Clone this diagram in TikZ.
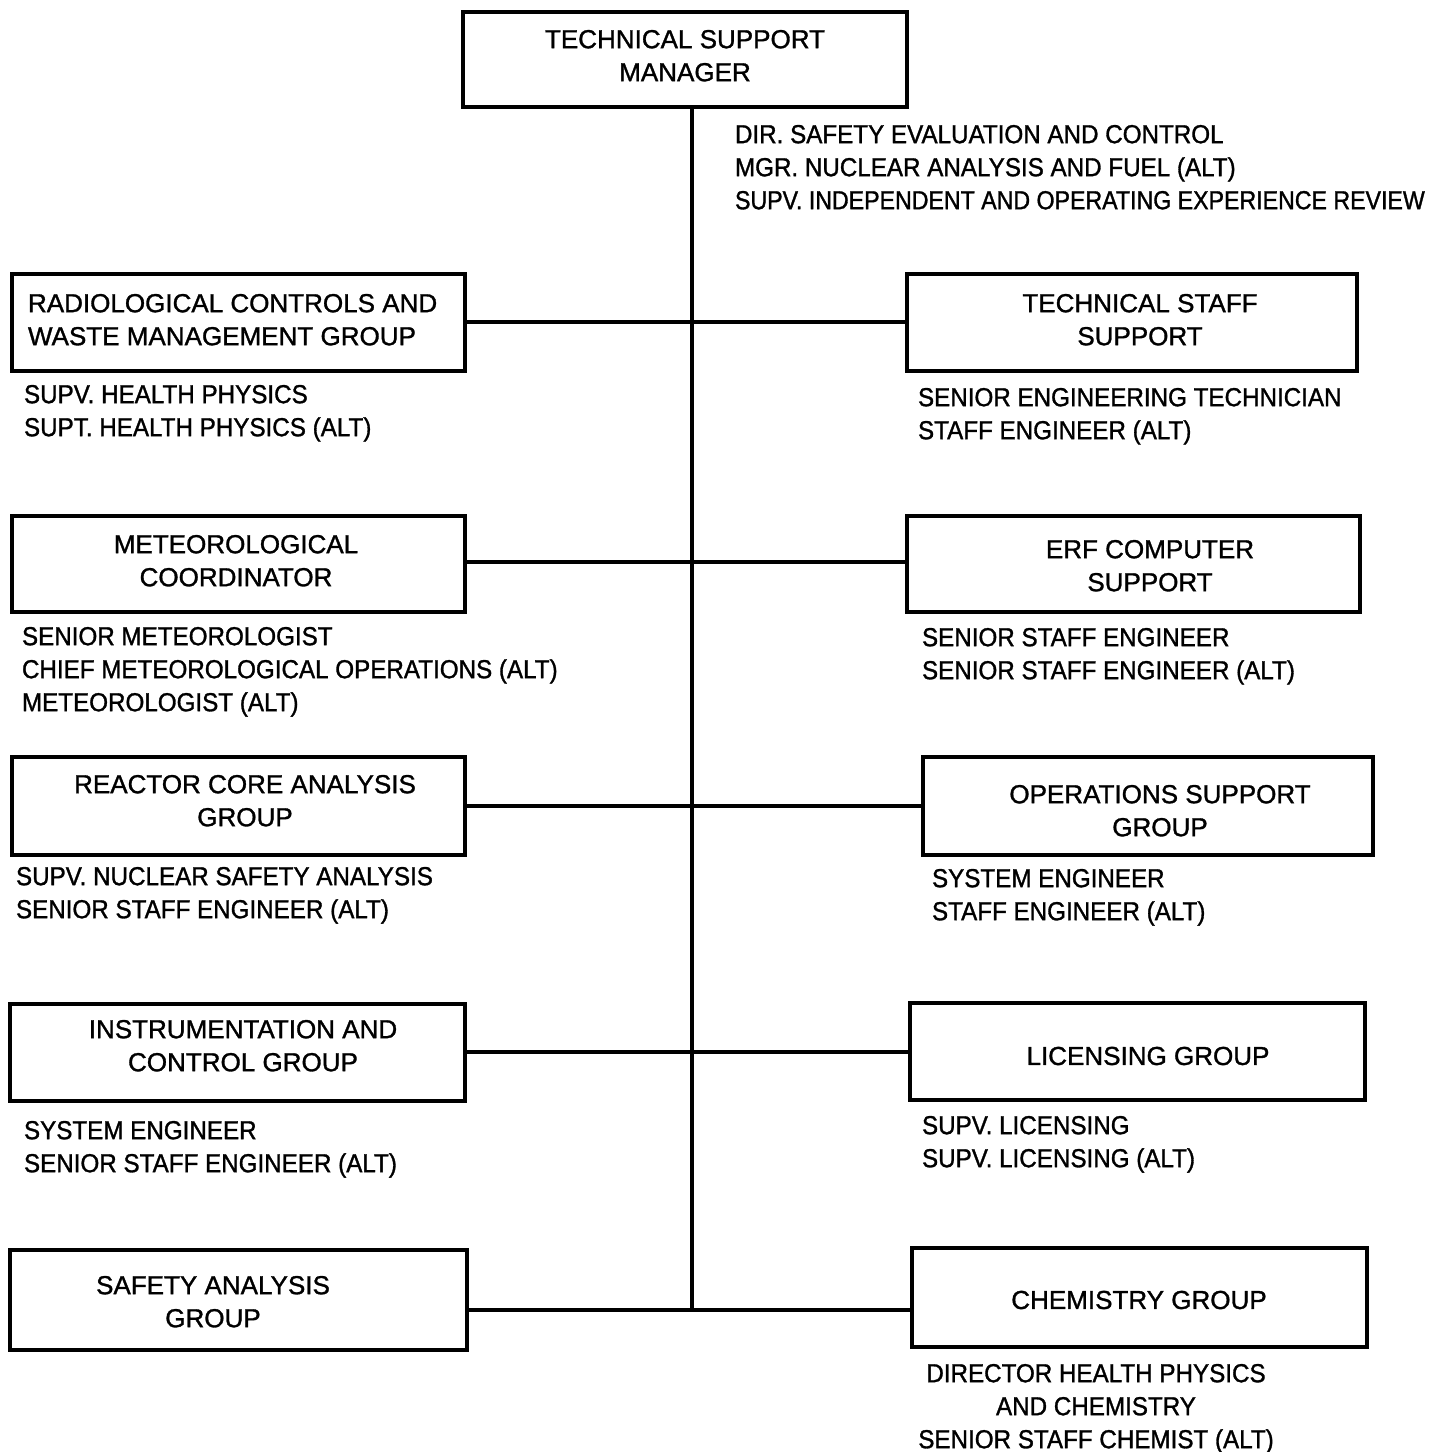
\documentclass[tikz,border=0pt]{standalone}
\usepackage{fontspec}
\setmainfont{Liberation Sans}
\newfontfamily\boxfont{Liberation Sans}[FakeBold=1.2]
\newfontfamily\notefont{Liberation Sans}[FakeBold=1.2,FakeStretch=0.93]
\newfontfamily\narrowfont{Liberation Sans}[FakeBold=1.2,FakeStretch=0.89]
\usetikzlibrary{fit}
\begin{document}
\begin{tikzpicture}[x=0.01cm,y=-0.01cm,
  every node/.style={inner sep=0pt, outer sep=0pt},
  box/.style={draw, line width=1.1pt, fit={#1}},
  txt/.style={font=\boxfont\fontsize{7.4pt}{9.39pt}\selectfont, align=center},
  ltxt/.style={font=\boxfont\fontsize{7.4pt}{9.39pt}\selectfont, align=left, anchor=north west},
  note/.style={font=\notefont\fontsize{7.4pt}{9.39pt}\selectfont, align=left, anchor=north west},
  cnote/.style={font=\notefont\fontsize{7.4pt}{9.39pt}\selectfont, align=center, anchor=north},
  conn/.style={line width=1.1pt}]
\useasboundingbox (0,0) rectangle (1429,1452);
% boxes
\node[box={(463,12) (907,107)}] (tsm) {};
\node[box={(12,274) (465,371)}] (rad) {};
\node[box={(12,516) (465,612)}] (met) {};
\node[box={(12,757) (465,855)}] (rca) {};
\node[box={(10,1004) (465,1101)}] (ic) {};
\node[box={(10,1250) (467,1350)}] (sa) {};
\node[box={(907,274) (1357,371)}] (tss) {};
\node[box={(907,516) (1360,612)}] (erf) {};
\node[box={(923,757) (1373,855)}] (ops) {};
\node[box={(910,1003) (1365,1100)}] (lic) {};
\node[box={(912,1248) (1367,1347)}] (chem) {};
% box texts
\node[txt, anchor=north] (tsmt) at (685,30) {TECHNICAL SUPPORT\\MANAGER};
\node[ltxt] (radt) at (28,294) {RADIOLOGICAL CONTROLS AND\\WASTE MANAGEMENT GROUP};
\node[txt, anchor=north] (mett) at (236,535) {METEOROLOGICAL\\COORDINATOR};
\node[txt, anchor=north] (rcat) at (245,775) {REACTOR CORE ANALYSIS\\GROUP};
\node[txt, anchor=north] (ict) at (243,1020) {INSTRUMENTATION AND\\CONTROL GROUP};
\node[txt, anchor=north] (sat) at (213,1276) {SAFETY ANALYSIS\\GROUP};
\node[txt, anchor=north] (tsst) at (1140,294) {TECHNICAL STAFF\\SUPPORT};
\node[txt, anchor=north] (erft) at (1150,540) {ERF COMPUTER\\SUPPORT};
\node[txt, anchor=north] (opst) at (1160,785) {OPERATIONS SUPPORT\\GROUP};
\node[txt] (lict) at (1148,1056) {LICENSING GROUP};
\node[txt] (chemt) at (1139,1300) {CHEMISTRY GROUP};
% notes
\node[note] (tsmn) at (735,125) {DIR. SAFETY EVALUATION AND CONTROL\\MGR. NUCLEAR ANALYSIS AND FUEL (ALT)\\{\narrowfont SUPV. INDEPENDENT AND OPERATING EXPERIENCE REVIEW}};
\node[note] (radn) at (24,385) {SUPV. HEALTH PHYSICS\\SUPT. HEALTH PHYSICS (ALT)};
\node[note] (metn) at (22,627) {SENIOR METEOROLOGIST\\CHIEF METEOROLOGICAL OPERATIONS (ALT)\\METEOROLOGIST (ALT)};
\node[note] (rcan) at (16,867) {SUPV. NUCLEAR SAFETY ANALYSIS\\SENIOR STAFF ENGINEER (ALT)};
\node[note] (icn) at (24,1121) {SYSTEM ENGINEER\\SENIOR STAFF ENGINEER (ALT)};
\node[note] (tssn) at (918,388) {SENIOR ENGINEERING TECHNICIAN\\STAFF ENGINEER (ALT)};
\node[note] (erfn) at (922,628) {SENIOR STAFF ENGINEER\\SENIOR STAFF ENGINEER (ALT)};
\node[note] (opsn) at (932,869) {SYSTEM ENGINEER\\STAFF ENGINEER (ALT)};
\node[note] (licn) at (922,1116) {SUPV. LICENSING\\SUPV. LICENSING (ALT)};
\node[cnote] (chemn) at (1096,1364) {DIRECTOR HEALTH PHYSICS\\AND CHEMISTRY\\SENIOR STAFF CHEMIST (ALT)};
% connectors
\coordinate (spineend) at (692,1310);
\draw[conn] (tsm.south -| spineend) -- (spineend);
\draw[conn] (rad.east |- 0,322) -- (tss.west |- 0,322);
\draw[conn] (met.east |- 0,562) -- (erf.west |- 0,562);
\draw[conn] (rca.east |- 0,806) -- (ops.west |- 0,806);
\draw[conn] (ic.east |- 0,1052) -- (lic.west |- 0,1052);
\draw[conn] (sa.east |- spineend) -- (chem.west |- spineend);
\end{tikzpicture}
\end{document}
